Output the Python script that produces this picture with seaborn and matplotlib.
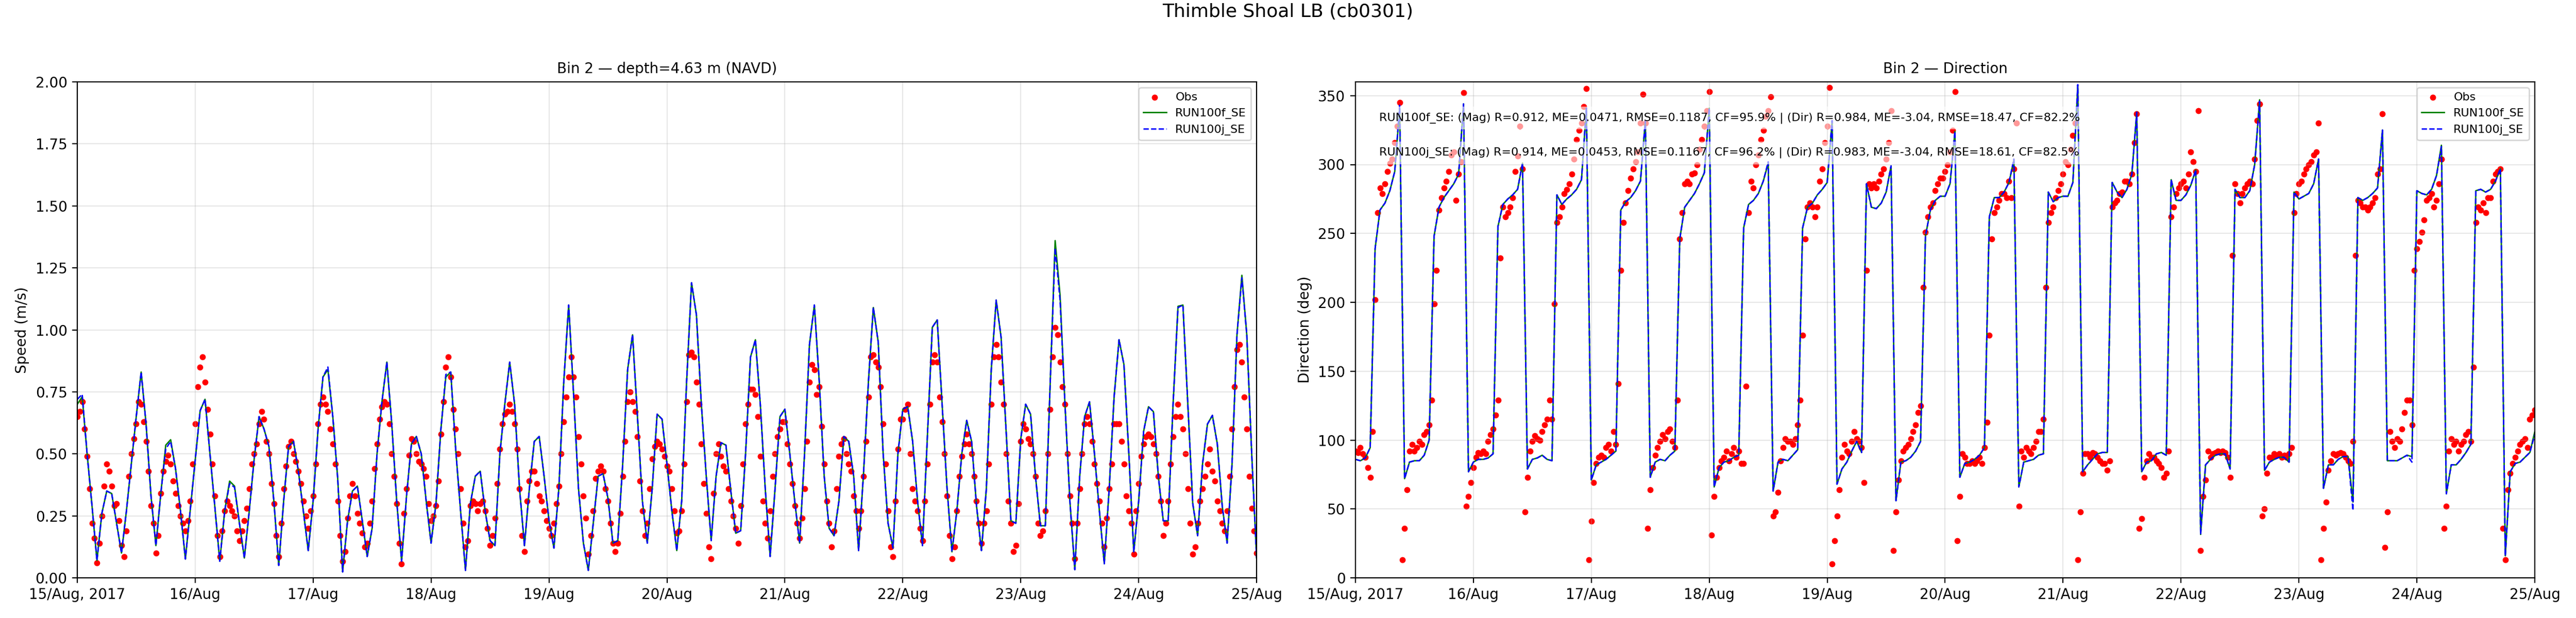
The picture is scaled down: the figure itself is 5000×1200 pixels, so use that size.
"""
Thimble Shoal LB (cb0301) — bin 2 speed / direction, obs vs two model runs.
Values read off the reference figure (model hourly, obs every 30 min).
"""

import pandas as pd
import numpy as np
import matplotlib
matplotlib.use('Agg')
import matplotlib.pyplot as plt
import matplotlib.dates as mdates
import seaborn as sns

START = '2017-08-15'
END = '2017-08-25'

day_labels = ['15/Aug, 2017', '16/Aug', '17/Aug', '18/Aug', '19/Aug', '20/Aug',
              '21/Aug', '22/Aug', '23/Aug', '24/Aug', '25/Aug']

# model speed (m/s), hourly
speed_f = [
    0.70, 0.73, 0.50, 0.29, 0.07, 0.26, 0.35, 0.34, 0.22, 0.10, 0.27, 0.46,
    0.65, 0.83, 0.62, 0.33, 0.13, 0.34, 0.535, 0.557, 0.44, 0.27, 0.076, 0.275,
    0.475, 0.674, 0.72, 0.50, 0.285, 0.067, 0.27, 0.39, 0.37, 0.22, 0.08, 0.27,
    0.48, 0.65, 0.60, 0.53, 0.31, 0.05, 0.31, 0.53, 0.55, 0.43, 0.27, 0.11,
    0.31, 0.60, 0.81, 0.84, 0.65, 0.40, 0.024, 0.23, 0.35, 0.37, 0.23, 0.086,
    0.20, 0.50, 0.71, 0.87, 0.62, 0.31, 0.067, 0.33, 0.54, 0.57, 0.50, 0.31,
    0.14, 0.30, 0.60, 0.81, 0.83, 0.52, 0.27, 0.03, 0.30, 0.41, 0.43, 0.27,
    0.15, 0.13, 0.50, 0.70, 0.87, 0.70, 0.36, 0.13, 0.36, 0.55, 0.57, 0.41,
    0.23, 0.12, 0.36, 0.79, 1.10, 0.74, 0.36, 0.14, 0.03, 0.22, 0.41, 0.42,
    0.32, 0.14, 0.15, 0.46, 0.84, 0.98, 0.65, 0.31, 0.14, 0.36, 0.66, 0.64,
    0.46, 0.27, 0.11, 0.31, 0.79, 1.19, 1.06, 0.70, 0.41, 0.15, 0.41, 0.545,
    0.535, 0.35, 0.18, 0.19, 0.50, 0.89, 0.96, 0.70, 0.36, 0.086, 0.36, 0.65,
    0.68, 0.50, 0.31, 0.14, 0.50, 0.94, 1.10, 0.79, 0.41, 0.20, 0.17, 0.31,
    0.57, 0.55, 0.41, 0.11, 0.42, 0.79, 1.09, 0.95, 0.50, 0.22, 0.12, 0.50,
    0.68, 0.69, 0.55, 0.31, 0.13, 0.57, 1.01, 1.04, 0.70, 0.36, 0.105, 0.27,
    0.50, 0.635, 0.55, 0.29, 0.11, 0.36, 0.84, 1.12, 0.97, 0.60, 0.23, 0.22,
    0.56, 0.70, 0.66, 0.41, 0.21, 0.21, 0.79, 1.36, 1.14, 0.70, 0.31, 0.033,
    0.41, 0.65, 0.71, 0.50, 0.27, 0.057, 0.36, 0.73, 0.96, 0.86, 0.50, 0.105,
    0.31, 0.59, 0.69, 0.67, 0.41, 0.23, 0.23, 0.70, 1.095, 1.10, 0.70, 0.30,
    0.17, 0.46, 0.62, 0.655, 0.54, 0.29, 0.14, 0.46, 0.98, 1.22, 0.98, 0.50,
    0.08,
]

speed_j = [
    0.72, 0.74, 0.50, 0.29, 0.07, 0.26, 0.35, 0.34, 0.22, 0.10, 0.27, 0.46,
    0.65, 0.83, 0.62, 0.33, 0.13, 0.34, 0.52, 0.55, 0.44, 0.27, 0.076, 0.275,
    0.475, 0.674, 0.72, 0.50, 0.285, 0.067, 0.27, 0.38, 0.365, 0.22, 0.08, 0.27,
    0.48, 0.65, 0.60, 0.53, 0.31, 0.05, 0.31, 0.53, 0.55, 0.43, 0.27, 0.11,
    0.31, 0.60, 0.81, 0.85, 0.65, 0.40, 0.024, 0.23, 0.35, 0.37, 0.23, 0.086,
    0.20, 0.50, 0.71, 0.87, 0.62, 0.31, 0.067, 0.33, 0.54, 0.57, 0.50, 0.31,
    0.14, 0.30, 0.60, 0.82, 0.83, 0.52, 0.27, 0.03, 0.30, 0.41, 0.43, 0.27,
    0.15, 0.13, 0.50, 0.70, 0.87, 0.70, 0.36, 0.13, 0.36, 0.55, 0.57, 0.41,
    0.23, 0.12, 0.36, 0.79, 1.10, 0.74, 0.36, 0.14, 0.03, 0.22, 0.41, 0.42,
    0.32, 0.14, 0.15, 0.46, 0.84, 0.98, 0.65, 0.31, 0.14, 0.36, 0.66, 0.64,
    0.46, 0.27, 0.11, 0.31, 0.79, 1.19, 1.06, 0.70, 0.41, 0.15, 0.41, 0.545,
    0.535, 0.35, 0.18, 0.19, 0.50, 0.89, 0.96, 0.70, 0.36, 0.086, 0.36, 0.65,
    0.68, 0.50, 0.31, 0.14, 0.50, 0.94, 1.10, 0.79, 0.41, 0.20, 0.17, 0.31,
    0.57, 0.55, 0.41, 0.11, 0.42, 0.79, 1.09, 0.95, 0.50, 0.22, 0.12, 0.50,
    0.68, 0.69, 0.55, 0.31, 0.13, 0.57, 1.01, 1.04, 0.70, 0.36, 0.105, 0.27,
    0.50, 0.635, 0.55, 0.29, 0.11, 0.36, 0.84, 1.12, 0.97, 0.60, 0.23, 0.22,
    0.56, 0.70, 0.66, 0.41, 0.21, 0.21, 0.79, 1.33, 1.12, 0.70, 0.31, 0.033,
    0.41, 0.65, 0.71, 0.50, 0.27, 0.057, 0.36, 0.73, 0.96, 0.86, 0.50, 0.105,
    0.31, 0.59, 0.69, 0.67, 0.41, 0.23, 0.23, 0.70, 1.09, 1.10, 0.70, 0.30,
    0.17, 0.46, 0.62, 0.655, 0.54, 0.29, 0.14, 0.46, 0.98, 1.21, 0.98, 0.50,
    0.08,
]

# observed speed (m/s), every 30 min
speed_obs = [
    0.65, 0.67, 0.71, 0.60, 0.49, 0.36, 0.22, 0.16, 0.06, 0.14, 0.25, 0.37,
    0.46, 0.43, 0.37, 0.29, 0.30, 0.23, 0.13, 0.086, 0.19, 0.41, 0.50, 0.56,
    0.62, 0.71, 0.70, 0.63, 0.55, 0.43, 0.29, 0.22, 0.10, 0.17, 0.34, 0.43,
    0.47, 0.495, 0.46, 0.39, 0.34, 0.29, 0.25, 0.22, 0.19, 0.23, 0.31, 0.46,
    0.62, 0.77, 0.85, 0.89, 0.79, 0.68, 0.58, 0.46, 0.33, 0.17, 0.086, 0.19,
    0.27, 0.31, 0.29, 0.27, 0.25, 0.19, 0.15, 0.19, 0.23, 0.28, 0.36, 0.46,
    0.50, 0.54, 0.62, 0.67, 0.64, 0.55, 0.50, 0.38, 0.30, 0.17, 0.086, 0.22,
    0.36, 0.45, 0.53, 0.55, 0.50, 0.47, 0.43, 0.38, 0.31, 0.25, 0.20, 0.27,
    0.33, 0.46, 0.62, 0.70, 0.73, 0.70, 0.67, 0.60, 0.54, 0.46, 0.31, 0.17,
    0.067, 0.105, 0.24, 0.33, 0.38, 0.33, 0.26, 0.22, 0.18, 0.124, 0.14, 0.22,
    0.31, 0.44, 0.54, 0.64, 0.69, 0.71, 0.70, 0.62, 0.50, 0.41, 0.30, 0.14,
    0.057, 0.26, 0.36, 0.495, 0.56, 0.55, 0.50, 0.47, 0.46, 0.44, 0.41, 0.30,
    0.23, 0.25, 0.29, 0.39, 0.58, 0.71, 0.85, 0.89, 0.81, 0.68, 0.60, 0.50,
    0.36, 0.22, 0.124, 0.15, 0.29, 0.31, 0.30, 0.27, 0.30, 0.31, 0.27, 0.20,
    0.13, 0.17, 0.24, 0.38, 0.52, 0.62, 0.66, 0.67, 0.70, 0.67, 0.62, 0.52,
    0.36, 0.17, 0.105, 0.31, 0.39, 0.43, 0.43, 0.38, 0.33, 0.31, 0.27, 0.23,
    0.20, 0.17, 0.22, 0.30, 0.37, 0.50, 0.63, 0.73, 0.81, 0.89, 0.81, 0.73,
    0.57, 0.46, 0.33, 0.24, 0.095, 0.17, 0.27, 0.40, 0.43, 0.45, 0.43, 0.36,
    0.31, 0.22, 0.14, 0.105, 0.14, 0.26, 0.41, 0.55, 0.71, 0.75, 0.71, 0.67,
    0.57, 0.39, 0.27, 0.17, 0.22, 0.36, 0.48, 0.53, 0.55, 0.54, 0.52, 0.49,
    0.45, 0.43, 0.36, 0.27, 0.18, 0.19, 0.27, 0.46, 0.71, 0.90, 0.91, 0.89,
    0.79, 0.70, 0.54, 0.38, 0.26, 0.124, 0.076, 0.34, 0.50, 0.54, 0.49, 0.45,
    0.43, 0.36, 0.31, 0.25, 0.20, 0.14, 0.29, 0.46, 0.62, 0.70, 0.76, 0.76,
    0.74, 0.65, 0.49, 0.31, 0.22, 0.16, 0.27, 0.41, 0.50, 0.57, 0.60, 0.63,
    0.63, 0.54, 0.46, 0.38, 0.29, 0.22, 0.16, 0.24, 0.36, 0.55, 0.79, 0.86,
    0.84, 0.74, 0.77, 0.61, 0.46, 0.31, 0.22, 0.124, 0.19, 0.36, 0.49, 0.54,
    0.56, 0.50, 0.46, 0.43, 0.33, 0.27, 0.20, 0.27, 0.41, 0.55, 0.73, 0.89,
    0.90, 0.87, 0.85, 0.77, 0.62, 0.46, 0.27, 0.124, 0.086, 0.31, 0.52, 0.64,
    0.64, 0.68, 0.70, 0.50, 0.36, 0.31, 0.27, 0.20, 0.15, 0.31, 0.46, 0.70,
    0.87, 0.90, 0.87, 0.73, 0.63, 0.50, 0.33, 0.17, 0.076, 0.124, 0.27, 0.41,
    0.49, 0.54, 0.58, 0.54, 0.50, 0.41, 0.31, 0.22, 0.14, 0.22, 0.27, 0.46,
    0.70, 0.89, 0.94, 0.89, 0.79, 0.70, 0.50, 0.31, 0.22, 0.105, 0.13, 0.30,
    0.55, 0.62, 0.60, 0.56, 0.54, 0.50, 0.41, 0.22, 0.17, 0.19, 0.27, 0.50,
    0.68, 0.89, 1.01, 0.98, 0.87, 0.77, 0.70, 0.50, 0.33, 0.22, 0.076, 0.22,
    0.36, 0.50, 0.62, 0.65, 0.62, 0.55, 0.46, 0.38, 0.31, 0.22, 0.124, 0.24,
    0.36, 0.46, 0.62, 0.62, 0.62, 0.55, 0.46, 0.33, 0.27, 0.22, 0.095, 0.27,
    0.38, 0.49, 0.54, 0.57, 0.58, 0.57, 0.54, 0.50, 0.41, 0.31, 0.17, 0.22,
    0.31, 0.46, 0.57, 0.65, 0.70, 0.65, 0.60, 0.50, 0.36, 0.22, 0.095, 0.124,
    0.22, 0.31, 0.36, 0.41, 0.46, 0.52, 0.43, 0.39, 0.31, 0.27, 0.22, 0.19,
    0.27, 0.41, 0.60, 0.77, 0.92, 0.94, 0.87, 0.73, 0.60, 0.41, 0.28, 0.19,
    0.10,
]

# model direction (deg), hourly
dir_f = [
    86, 85, 87, 94.5, 239, 267, 272, 281, 295, 341, 72, 84,
    85, 85, 89, 100, 248, 269, 276, 281, 286, 293, 344, 77,
    84, 86, 86, 87, 90, 255, 271, 275, 278, 282, 301, 79,
    86, 87, 89, 86, 85, 278, 271, 275, 278, 282, 289, 341,
    71, 82, 84, 86, 89, 92, 267, 273, 276, 281, 288, 332,
    73, 84, 86, 85, 89, 92, 246, 269, 274, 279, 286, 294,
    341, 66, 80, 84, 85, 87.5, 89, 254, 271, 274, 279, 288,
    301, 63, 84, 86, 85, 89, 93, 254, 269, 272, 278, 282,
    287, 331, 68, 79, 84, 92, 99, 91, 286, 269, 268, 272,
    280, 299, 56, 84, 85, 87.5, 92, 99, 248, 267, 274, 277,
    277, 286, 324, 73, 83, 84, 86, 89, 94.5, 262, 276, 276,
    280, 287, 303, 66, 84, 85, 86, 89, 90, 280, 273, 276,
    277, 277, 287, 357, 77, 82, 86, 90, 91, 91, 287, 280,
    276, 282, 293, 338, 77, 84, 85, 90, 91, 89, 289, 274,
    274, 278, 285, 296, 31.5, 82, 86, 89, 90, 90, 79, 282,
    276, 276, 281, 300, 347, 78, 84, 86, 87.5, 87.5, 84, 280,
    275, 277, 279, 286, 304, 65, 82, 82, 86, 88, 88, 55,
    276, 274, 276, 279, 283, 325, 85, 85, 85, 87, 89, 88,
    281, 279, 278, 282, 292, 314, 61, 82, 82, 86, 91, 97,
    281, 282, 280, 282, 288, 297, 16, 77, 83, 84, 87.5, 91,
    106,
]

dir_j = [
    86, 85, 87, 94.5, 239, 267, 272, 281, 295, 343, 72, 84,
    85, 85, 89, 100, 248, 269, 276, 281, 286, 293, 344, 77,
    84, 86, 86, 87, 90, 255, 271, 275, 278, 282, 301, 79,
    86, 87, 89, 86, 85, 278, 271, 275, 278, 282, 289, 341,
    71, 82, 84, 86, 89, 92, 267, 273, 276, 281, 288, 332,
    73, 84, 86, 85, 89, 92, 246, 269, 274, 279, 286, 294,
    341, 66, 80, 84, 85, 87.5, 89, 254, 271, 274, 279, 288,
    302, 63, 84, 86, 85, 89, 93, 254, 269, 272, 278, 282,
    287, 332, 68, 79, 84, 92, 99, 91, 286, 269, 268, 272,
    280, 299, 56, 84, 85, 87.5, 92, 99, 248, 267, 274, 277,
    277, 286, 324, 73, 83, 84, 86, 89, 94.5, 262, 276, 276,
    280, 287, 304, 66, 84, 85, 86, 89, 90, 280, 273, 276,
    277, 277, 287, 358, 77, 82, 86, 90, 91, 91, 287, 280,
    276, 282, 293, 338, 77, 84, 85, 90, 91, 89, 289, 274,
    274, 278, 285, 296, 31.5, 82, 86, 89, 90, 90, 79, 282,
    276, 276, 281, 300, 346, 78, 84, 86, 87.5, 87.5, 84, 280,
    275, 277, 279, 286, 304, 65, 82, 82, 86, 88, 88, 49,
    276, 274, 276, 279, 283, 325, 85, 85, 85, 87, 89, 84,
    281, 279, 278, 282, 292, 313, 61, 82, 82, 86, 91, 97,
    281, 282, 280, 282, 288, 297, 16, 77, 83, 84, 87.5, 91,
    104,
]

# observed direction (deg), every 30 min
dir_obs = [
    92, 91, 94.5, 90, 87.5, 80, 73, 106, 202, 265, 283, 279,
    286, 295, 301, 304, 316, 328, 345, 13, 36, 64, 92, 97,
    92, 94.5, 99, 97, 104, 106, 111, 129, 199, 223, 267, 276,
    283, 288, 295, 307, 309, 274, 293, 302, 352, 52, 59, 69,
    80, 87.5, 91, 90, 92, 90, 99, 104, 108, 118, 129, 232,
    269, 262, 265, 269, 276, 295, 306, 328, 297, 48, 73, 92,
    99, 103, 101, 100, 106, 111, 115, 129, 115, 199, 258, 262,
    269, 279, 282, 286, 293, 304, 318, 325, 330, 342, 355, 13,
    41, 69, 83, 87.5, 89, 87.5, 94.5, 97, 92, 106, 97, 141,
    223, 258, 272, 281, 290, 297, 302, 309, 330, 351, 330, 36,
    64, 80, 89, 94.5, 99, 104, 101, 106, 108, 99, 94.5, 129,
    246, 265, 286, 288, 286, 293, 294, 300, 311, 318, 328, 339,
    353, 31, 59, 73, 80, 85, 87.5, 92, 85, 90, 94.5, 87.5,
    92, 83, 83, 139, 265, 288, 283, 300, 307, 318, 325, 335,
    339, 349, 45, 48, 62, 85, 94.5, 101, 99, 99, 97, 101,
    111, 129, 176, 246, 269, 272, 269, 262, 269, 288, 297, 316,
    328, 356, 10, 27, 45, 64, 87.5, 97, 92, 90, 99, 106,
    101, 99, 94.5, 69, 223, 286, 283, 286, 283, 288, 293, 297,
    304, 316, 339, 20, 48, 71, 85, 92, 94.5, 97, 101, 106,
    111, 120, 125, 211, 251, 262, 269, 272, 281, 286, 290, 290,
    295, 300, 309, 325, 353, 27, 59, 90, 87.5, 83, 83, 85,
    83, 85, 87.5, 83, 94.5, 113, 176, 246, 265, 269, 274, 279,
    279, 276, 288, 276, 297, 330, 52, 92, 87.5, 94.5, 92, 90,
    94.5, 99, 106, 106, 115, 211, 258, 265, 269, 276, 281, 286,
    293, 302, 300, 311, 321, 330, 13, 48, 76, 90, 90, 87.5,
    91, 90, 87.5, 85, 83, 83, 78, 85, 269, 272, 274, 279,
    280, 288, 288, 286, 293, 316, 337, 36, 43, 73, 85, 90,
    87.5, 87.5, 85, 83, 80, 73, 76, 92, 262, 269, 279, 283,
    286, 288, 283, 293, 309, 302, 295, 339, 20, 59, 71, 92,
    87.5, 90, 91, 92, 91, 92, 91, 87.5, 73, 234, 286, 279,
    272, 279, 283, 286, 288, 286, 304, 332, 344, 45, 50, 76,
    87.5, 87.5, 90, 89, 90, 87.5, 89, 87.5, 90, 94.5, 265, 279,
    286, 288, 293, 297, 300, 302, 307, 309, 330, 13, 36, 55,
    78, 85, 90, 89, 90, 91, 90, 87.5, 85, 83, 99, 234,
    274, 272, 269, 269, 267, 269, 272, 276, 293, 297, 337, 22,
    48, 106, 99, 94.5, 101, 99, 108, 120, 129, 129, 111, 223,
    239, 244, 251, 260, 274, 276, 279, 269, 274, 286, 304, 36,
    52, 92, 101, 97, 99, 92, 97, 99, 104, 106, 99, 153,
    258, 269, 267, 272, 265, 276, 276, 288, 293, 295, 297, 36,
    13, 64, 76, 83, 87.5, 92, 97, 99, 101, 94.5, 115, 118,
    122,
]

# skill stats printed on the direction panel
run_names = ['RUN100f_SE', 'RUN100j_SE']
mag_R = ['0.912', '0.914']
mag_ME = ['0.0471', '0.0453']
mag_RMSE = ['0.1187', '0.1167']
mag_CF = ['95.9', '96.2']
dir_R = ['0.984', '0.983']
dir_ME = ['-3.04', '-3.04']
dir_RMSE = ['18.47', '18.61']
dir_CF = ['82.2', '82.5']

t_model = mdates.date2num(pd.date_range(START, periods=len(speed_f), freq='h'))
t_obs = mdates.date2num(pd.date_range(START, periods=len(speed_obs), freq='30min'))
t_days = mdates.date2num(pd.date_range(START, END, freq='D'))


def draw_panel(ax, obs, run_f, run_j, title, ylabel, ylim):
    sns.scatterplot(x=t_obs, y=obs, ax=ax, color='red', s=18, linewidth=0,
                    label='Obs')
    sns.lineplot(x=t_model, y=run_f, ax=ax, color='green', linewidth=1.0,
                 label='RUN100f_SE')
    sns.lineplot(x=t_model, y=run_j, ax=ax, color='blue', linewidth=1.0,
                 linestyle='--', label='RUN100j_SE')
    ax.set_xlim(t_days[0], t_days[-1])
    ax.set_ylim(*ylim)
    ax.set_xticks(t_days)
    ax.set_xticklabels(day_labels)
    ax.set_title(title, fontsize=10)
    ax.set_ylabel(ylabel, fontsize=10)
    ax.set_xlabel('')
    ax.tick_params(labelsize=10)
    ax.grid(True, alpha=0.3)
    ax.legend(loc='upper right', fontsize=8)


fig, (ax1, ax2) = plt.subplots(1, 2, figsize=(25, 6), dpi=200)
fig.subplots_adjust(left=0.030, right=0.984, bottom=0.065, top=0.8675, wspace=0.0838)

draw_panel(ax1, speed_obs, speed_f, speed_j, 'Bin 2 — depth=4.63 m (NAVD)',
           'Speed (m/s)', (0, 2.0))
draw_panel(ax2, dir_obs, dir_f, dir_j, 'Bin 2 — Direction',
           'Direction (deg)', (0, 360))

for i, name in enumerate(run_names):
    txt = (f"{name}: (Mag) R={mag_R[i]}, ME={mag_ME[i]}, RMSE={mag_RMSE[i]}, CF={mag_CF[i]}% | "
           f"(Dir) R={dir_R[i]}, ME={dir_ME[i]}, RMSE={dir_RMSE[i]}, CF={dir_CF[i]}%")
    ax2.text(0.02, 0.927 - 0.07 * i, txt, transform=ax2.transAxes, fontsize=8,
             va='center', ha='left', zorder=5,
             bbox=dict(facecolor='white', alpha=0.6, edgecolor='none'))

fig.suptitle('Thimble Shoal LB (cb0301)', fontsize=13, y=0.995)

plt.savefig('out.png', dpi=200)
plt.close()
